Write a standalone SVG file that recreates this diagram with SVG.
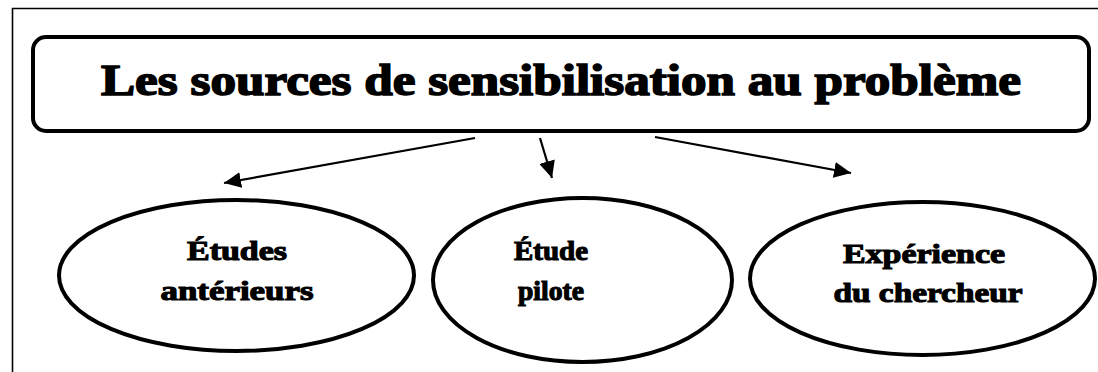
<svg xmlns="http://www.w3.org/2000/svg" width="1098" height="372" viewBox="0 0 1098 372">
  <style>
    .frame { fill: none; stroke: #000; stroke-width: 1.6; }
    .box { fill: #fff; stroke: #000; stroke-width: 4; }
    .oval { fill: #fff; stroke: #000; stroke-width: 4; }
    .title { font-family: "Liberation Serif", "DejaVu Serif", serif; font-weight: bold; font-size: 44px; fill: #000; stroke: #000; stroke-width: 1.6; text-anchor: middle; }
    .label { font-family: "Liberation Serif", "DejaVu Serif", serif; font-weight: bold; font-size: 27px; fill: #000; stroke: #000; stroke-width: 1.1; text-anchor: middle; }
    .conn { stroke: #000; stroke-width: 2.2; fill: none; }
  </style>
  <defs>
    <marker id="arrow" markerUnits="userSpaceOnUse" markerWidth="18" markerHeight="16" refX="17" refY="8" orient="auto">
      <path d="M0,0 L17,8 L0,16 Z" fill="#000"/>
    </marker>
  </defs>
  <rect width="1098" height="372" fill="#fff"/>
  <path class="frame" d="M12.5,372 V8.5 H1098"/>

  <g id="title">
    <rect class="box" x="33" y="37" width="1056" height="94" rx="13"/>
    <text class="title" x="561" y="95" textLength="920" lengthAdjust="spacingAndGlyphs">Les sources de sensibilisation au problème</text>
  </g>

  <g id="connectors">
    <line class="conn" x1="475" y1="138" x2="224" y2="183" marker-end="url(#arrow)"/>
    <line class="conn" x1="540" y1="138" x2="552" y2="178" marker-end="url(#arrow)"/>
    <line class="conn" x1="655" y1="137" x2="851" y2="173" marker-end="url(#arrow)"/>
  </g>

  <g id="etudes-anterieurs">
    <ellipse class="oval" cx="236.5" cy="275.5" rx="177.5" ry="75.5"/>
    <text class="label" x="237" y="260" textLength="100" lengthAdjust="spacingAndGlyphs">Études</text>
    <text class="label" x="237" y="300" textLength="153" lengthAdjust="spacingAndGlyphs">antérieurs</text>
  </g>

  <g id="etude-pilote">
    <ellipse class="oval" cx="582.5" cy="280" rx="149.5" ry="82"/>
    <text class="label" x="551" y="260" textLength="74" lengthAdjust="spacingAndGlyphs">Étude</text>
    <text class="label" x="551" y="300" textLength="66" lengthAdjust="spacingAndGlyphs">pilote</text>
  </g>

  <g id="experience-chercheur">
    <ellipse class="oval" cx="922.5" cy="278.5" rx="172.5" ry="76.5"/>
    <text class="label" x="924" y="263" textLength="162" lengthAdjust="spacingAndGlyphs">Expérience</text>
    <text class="label" x="928" y="302" textLength="189" lengthAdjust="spacingAndGlyphs">du chercheur</text>
  </g>
</svg>
